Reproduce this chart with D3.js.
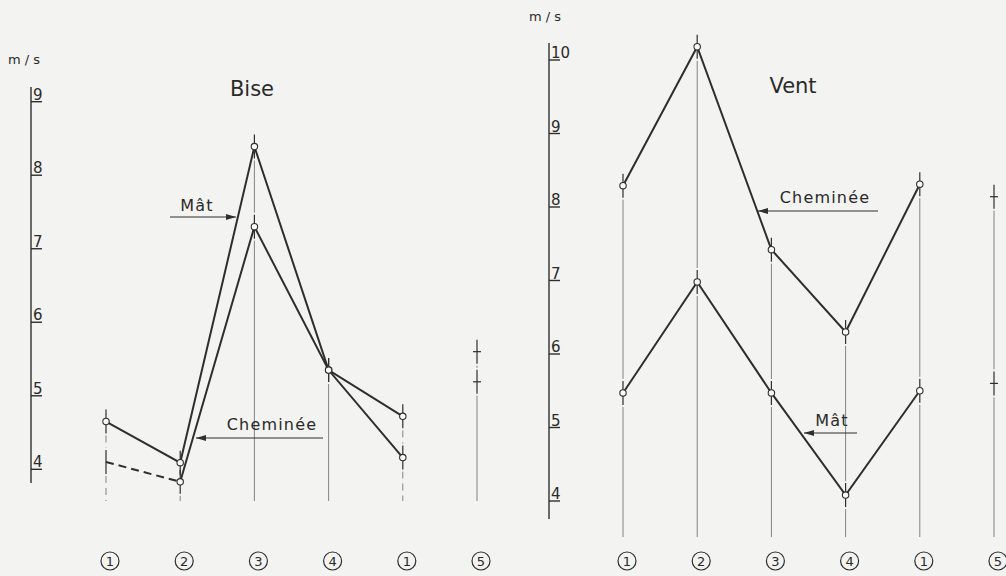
<!DOCTYPE html>
<html>
<head>
<meta charset="utf-8">
<script src="https://d3js.org/d3.v7.min.js"></script>
<style>
	body { margin: 0; background: #f3f3f1; }
	svg { display: block; }
	text { font-family: "DejaVu Sans", sans-serif; fill: #2a2a2a; }
</style>
</head>
<body>
<svg id="chart" width="1006" height="576"></svg>
<script>
	// positions along the x axis (circled numbers)
	var positions = ["1", "2", "3", "4", "1", "5"];

	// Bise, m/s
	var biseMat = [4.65, 4.09, 8.39, 5.35, 4.72];
	var biseChem = [4.10, 3.83, 7.30, 5.35, 4.16];
	var biseRef5 = [5.60, 5.19];
	var biseTicks = [4, 5, 6, 7, 8, 9];

	// Vent, m/s
	var ventChem = [8.29, 10.18, 7.42, 6.30, 8.31];
	var ventMat = [5.47, 6.98, 5.47, 4.08, 5.50];
	var ventRef5 = [8.14, 5.60];
	var ventTicks = [4, 5, 6, 7, 8, 9, 10];

	var ink = "#2e2e2e";
	var svg = d3.select("#chart");

	var defs = svg.append("defs");
	defs.append("marker")
		.attr("id", "head")
		.attr("viewBox", "0 0 10 6")
		.attr("refX", 10).attr("refY", 3)
		.attr("markerWidth", 10).attr("markerHeight", 6)
		.attr("markerUnits", "userSpaceOnUse")
		.attr("orient", "auto")
		.append("path").attr("d", "M0,0L10,3L0,6Z").attr("fill", ink);

	function panel(o) {
		var x = d3.scaleLinear().domain([0, positions.length - 1]).range(o.xRange);
		var y = d3.scaleLinear().domain(o.yDomain).range(o.yRange);
		var g = svg.append("g");

		// value axis
		g.append("line")
			.attr("x1", o.axisX).attr("x2", o.axisX)
			.attr("y1", o.axisTop).attr("y2", o.axisBottom)
			.attr("stroke", ink).attr("stroke-width", 1.4);
		o.ticks.forEach(function(t){
			g.append("line")
				.attr("x1", o.axisX).attr("x2", o.axisX + 11)
				.attr("y1", y(t)).attr("y2", y(t))
				.attr("stroke", ink).attr("stroke-width", 1.4);
			g.append("text")
				.attr("x", o.axisX + 2).attr("y", y(t) - 2)
				.style("font-size", "15px")
				.text(t);
		});
		g.append("text")
			.attr("x", o.unitX).attr("y", o.unitY)
			.style("font-size", "13px")
			.text("m / s");

		// column guides
		var cols = [];
		for (var i = 0; i < positions.length; i++) {
			var vals = i < 5 ? [o.a[i], o.b[i]] : o.ref5;
			cols.push(vals.map(function(v){ return y(v); }));
		}
		cols.forEach(function(ys, i){
			var top = d3.min(ys), bot = d3.max(ys);
			var dashedCol = o.dashed.indexOf(i) >= 0;
			// between the two values
			if (bot - top > 30) {
				g.append("line")
					.attr("x1", x(i)).attr("x2", x(i))
					.attr("y1", top + 14).attr("y2", bot - 14)
					.attr("stroke", "#777").attr("stroke-width", 0.9)
					.attr("stroke-dasharray", dashedCol ? "7,5" : null);
			}
			// below down to baseline
			g.append("line")
				.attr("x1", x(i)).attr("x2", x(i))
				.attr("y1", bot + 14).attr("y2", o.guideBottom)
				.attr("stroke", "#777").attr("stroke-width", 0.9)
				.attr("stroke-dasharray", dashedCol ? "7,5" : null);
			// short ticks through each value
			ys.forEach(function(yy){
				g.append("line")
					.attr("x1", x(i)).attr("x2", x(i))
					.attr("y1", yy - 12).attr("y2", yy + 12)
					.attr("stroke", ink).attr("stroke-width", 1.2);
				if (i == 5) {
					g.append("line")
						.attr("x1", x(i) - 4).attr("x2", x(i) + 4)
						.attr("y1", yy).attr("y2", yy)
						.attr("stroke", ink).attr("stroke-width", 1.2);
				}
			});
		});

		// series lines
		var line = d3.line().x(function(d){ return x(d[0]); }).y(function(d){ return y(d[1]); });
		[o.a, o.b].forEach(function(s, k){
			var pts = s.map(function(v, i){ return [i, v]; });
			var start = (k == 1 && o.dashFirst) ? 1 : 0;
			if (start == 1) {
				g.append("path")
					.attr("d", line(pts.slice(0, 2)))
					.attr("fill", "none").attr("stroke", ink)
					.attr("stroke-width", 2).attr("stroke-dasharray", "8,5");
			}
			g.append("path")
				.attr("d", line(pts.slice(start)))
				.attr("fill", "none").attr("stroke", ink)
				.attr("stroke-width", 2).attr("stroke-linejoin", "miter");
			g.selectAll(null).data(pts.slice(start)).enter()
				.append("circle")
				.attr("cx", function(d){ return x(d[0]); })
				.attr("cy", function(d){ return y(d[1]); })
				.attr("r", 3.2)
				.attr("fill", "#fafafa").attr("stroke", ink).attr("stroke-width", 1.1);
		});

		// circled position numbers
		positions.forEach(function(p, i){
			var cx = x(i) + 4, cy = 561;
			g.append("circle")
				.attr("cx", cx).attr("cy", cy).attr("r", 9)
				.attr("fill", "none").attr("stroke", ink).attr("stroke-width", 1.2);
			g.append("text")
				.attr("x", cx).attr("y", cy + 5)
				.attr("text-anchor", "middle")
				.style("font-size", "13px")
				.text(p);
		});

		// title
		g.append("text")
			.attr("x", o.titleX).attr("y", o.titleY)
			.attr("text-anchor", "middle")
			.style("font-size", "21px")
			.text(o.title);

		// labels with arrows
		o.labels.forEach(function(l){
			g.append("text")
				.attr("x", l.tx).attr("y", l.ty)
				.attr("text-anchor", "middle")
				.style("font-size", "16px").style("letter-spacing", "1.2px")
				.text(l.text);
			g.append("line")
				.attr("x1", l.x1).attr("x2", l.x2)
				.attr("y1", l.ay).attr("y2", l.ay)
				.attr("stroke", ink).attr("stroke-width", 1)
				.attr("marker-end", "url(#head)");
		});
	}

	panel({
		title: "Bise", titleX: 252, titleY: 96,
		a: biseMat, b: biseChem, ref5: biseRef5, ticks: biseTicks,
		xRange: [106, 477], yDomain: [4, 9], yRange: [469.3, 101.7],
		axisX: 31, axisTop: 87, axisBottom: 483,
		unitX: 8, unitY: 64,
		guideBottom: 501, dashed: [0, 1, 4], dashFirst: true,
		labels: [
			{text: "Mât", tx: 197, ty: 211, x1: 170, x2: 236, ay: 217},
			{text: "Cheminée", tx: 272, ty: 430, x1: 323, x2: 196, ay: 438}
		]
	});

	panel({
		title: "Vent", titleX: 793, titleY: 93,
		a: ventChem, b: ventMat, ref5: ventRef5, ticks: ventTicks,
		xRange: [623, 994], yDomain: [4, 10], yRange: [501, 60],
		axisX: 549, axisTop: 43, axisBottom: 519,
		unitX: 529, unitY: 21,
		guideBottom: 537, dashed: [], dashFirst: false,
		labels: [
			{text: "Cheminée", tx: 825, ty: 203, x1: 878, x2: 758, ay: 211},
			{text: "Mât", tx: 832, ty: 426, x1: 857, x2: 804, ay: 433}
		]
	});
</script>
</body>
</html>
